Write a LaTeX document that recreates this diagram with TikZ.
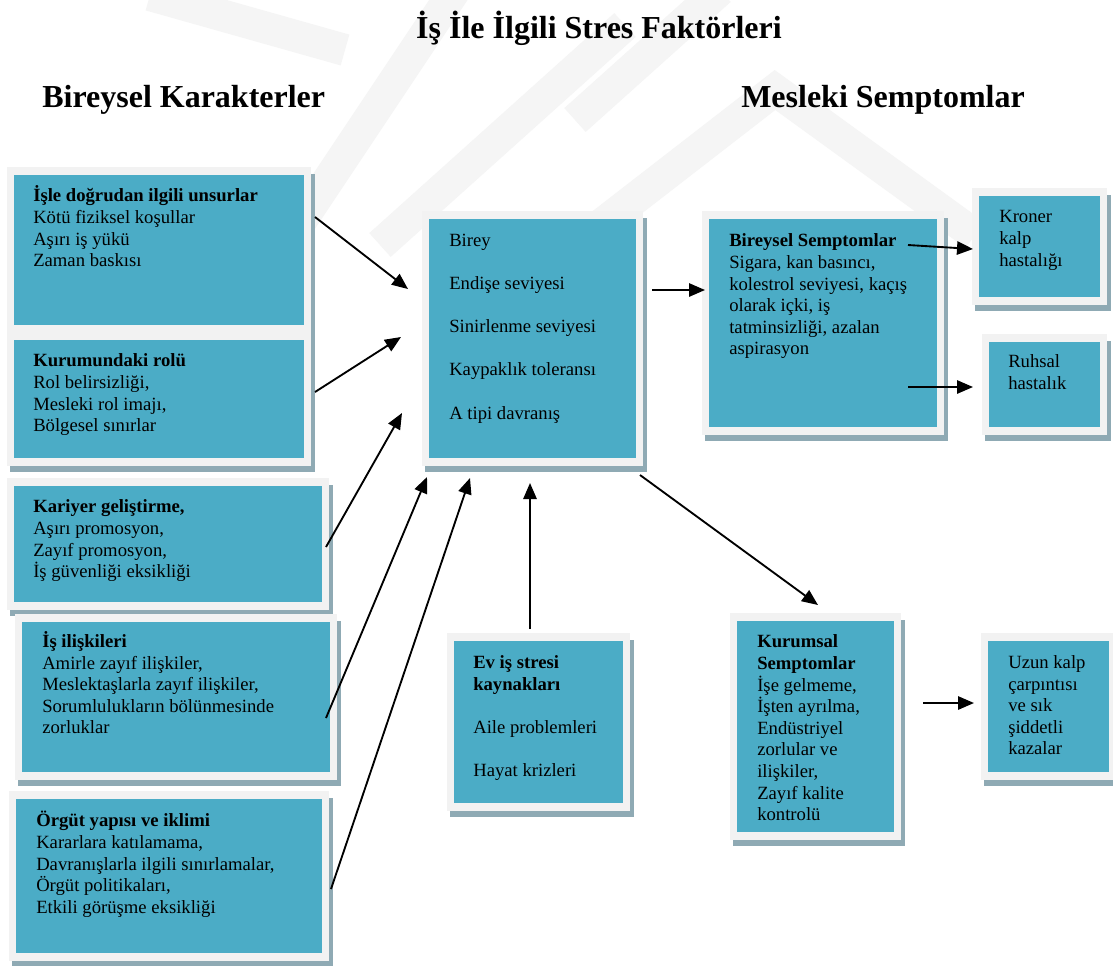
\documentclass[tikz,border=0pt]{standalone}
\usepackage{fontspec}
\setmainfont{Liberation Serif}
\usetikzlibrary{arrows.meta}

\definecolor{panelfill}{HTML}{4BACC6}
\definecolor{panelrim}{HTML}{F2F2F2}
\definecolor{panelshade}{HTML}{8FAAB4}
\definecolor{markgray}{HTML}{F5F5F5}

% first-line strut so every text block starts at the same baseline offset
\newcommand\fl{\rule{0pt}{13pt}}

% panel: name, inner (teal) rectangle x1 y1 x2 y2; draws shadow, light rim and the teal core
\newcommand\panel[5]{%
  \fill[panelshade] ({#2-4},{#3-1}) rectangle ({#4+11},{#5+14});
  \fill[panelrim] ({#2-7},{#3-8}) rectangle ({#4+7},{#5+8});
  \node[core, minimum width={(#4-#2)*0.75pt}, minimum height={(#5-#3)*0.75pt}]
    (#1) at ({(#2+#4)/2},{(#3+#5)/2}) {};
}

\tikzset{
  core/.style={fill=panelfill, inner sep=0pt, outer sep=0pt},
  body/.style={anchor=north west, yshift=13pt, align=left, inner sep=0pt,
               font=\fontsize{14}{16.2}\selectfont},
  head/.style={inner sep=0pt, font=\fontsize{24}{28}\selectfont\bfseries},
  link/.style={-{Triangle[length=12pt,width=10pt]}, line width=1.4pt},
  band/.style={markgray, line width=24pt, line cap=butt},
}

\begin{document}
\begin{tikzpicture}[x=0.75pt, y=-0.75pt]
  \useasboundingbox (0,0) rectangle (1113,965);
  \fill[white] (0,0) rectangle (1113,965);

  % faint background emblem
  \begin{scope}
    \clip (0,0) rectangle (1113,965);
    \draw[band] (285,245) -- (455,-10);
    \draw[band] (380,245) -- (625,25);
    \draw[band] (150,-5) -- (345,50);
    \draw[band, line join=miter] (575,245) -- (775,90) -- (975,235);
    \draw[band] (575,120) -- (720,-10);
  \end{scope}

  % headings
  \node[head, anchor=base] (title) at (599,38) {İş İle İlgili Stres Faktörleri};
  \node[head, anchor=base west] (lefthead) at (42,107) {Bireysel Karakterler};
  \node[head, anchor=base west] (righthead) at (741,107) {Mesleki Semptomlar};

  % left column
  \panel{direct}{14}{175}{304}{325}
  \panel{role}{14}{340}{304}{458}
  \panel{career}{14}{486}{322}{602}
  \panel{relations}{22}{622}{330}{772}
  \panel{structure}{16}{799}{322}{953}

  % centre
  \panel{person}{429}{219}{636}{458}
  \panel{home}{454}{641}{623}{803}

  % right side
  \panel{indiv}{709}{219}{937}{427}
  \panel{coronary}{979}{196}{1100}{297}
  \panel{mental}{989}{342}{1100}{427}
  \panel{corp}{737}{621}{894}{832}
  \panel{accident}{988}{641}{1109}{772}

  % texts
  \node[body] (tdirect) at (33,201.7) {\fl\textbf{İşle doğrudan ilgili unsurlar}\\Kötü fiziksel koşullar\\Aşırı iş yükü\\Zaman baskısı};
  \node[body] (trole) at (33,366.7) {\fl\textbf{Kurumundaki rolü}\\Rol belirsizliği,\\Mesleki rol imajı,\\Bölgesel sınırlar};
  \node[body] (tcareer) at (33,512.7) {\fl\textbf{Kariyer geliştirme,}\\Aşırı promosyon,\\Zayıf promosyon,\\İş güvenliği eksikliği};
  \node[body] (trelations) at (42,647.3) {\fl\textbf{İş ilişkileri}\\Amirle zayıf ilişkiler,\\Meslektaşlarla zayıf ilişkiler,\\Sorumlulukların bölünmesinde\\zorluklar};
  \node[body] (tstructure) at (36,826.7) {\fl\textbf{Örgüt yapısı ve iklimi}\\Kararlara katılamama,\\Davranışlarla ilgili sınırlamalar,\\Örgüt politikaları,\\Etkili görüşme eksikliği};
  \node[body] (tperson) at (449,246) {\fl Birey\\[16.2pt]Endişe seviyesi\\[16.2pt]Sinirlenme seviyesi\\[16.2pt]Kaypaklık toleransı\\[16.2pt]A tipi davranış};
  \node[body] (thome) at (473,668.3) {\fl\textbf{Ev iş stresi}\\\textbf{kaynakları}\\[16.2pt]Aile problemleri\\[16.2pt]Hayat krizleri};
  \node[body] (tindiv) at (729,246.7) {\fl\textbf{Bireysel Semptomlar}\\Sigara, kan basıncı,\\kolestrol seviyesi, kaçış\\olarak içki, iş\\tatminsizliği, azalan\\aspirasyon};
  \node[body] (tcoronary) at (999,222.7) {\fl Kroner\\kalp\\hastalığı};
  \node[body] (tmental) at (1008,367.3) {\fl Ruhsal\\hastalık};
  \node[body] (tcorp) at (757,647.7) {\fl\textbf{Kurumsal}\\\textbf{Semptomlar}\\İşe gelmeme,\\İşten ayrılma,\\Endüstriyel\\zorlular ve\\ilişkiler,\\Zayıf kalite\\kontrolü};
  \node[body] (taccident) at (1008,668.3) {\fl Uzun kalp\\çarpıntısı\\ve sık\\şiddetli\\kazalar};

  % connector end points
  \coordinate (s1) at (315,217);  \coordinate (e1) at (408,289);
  \coordinate (s2) at (315,392);  \coordinate (e2) at (401,337);
  \coordinate (s3) at (326,547);  \coordinate (e3) at (402,413);
  \coordinate (s4) at (326,718);  \coordinate (e4) at (427,477);
  \coordinate (s5) at (331,889);  \coordinate (e5) at (470,478);
  \coordinate (s6) at (530,629);  \coordinate (e6) at (530,483);
  \coordinate (s7) at (652,290);  \coordinate (e7) at (705,290);
  \coordinate (s8) at (908,245);  \coordinate (e8) at (973,249);
  \coordinate (s9) at (908,387);  \coordinate (e9) at (973,387);
  \coordinate (s10) at (640,475); \coordinate (e10) at (818,605);
  \coordinate (s11) at (923,703); \coordinate (e11) at (974,703);

  \draw[link] (s1) -- (e1);
  \draw[link] (s2) -- (e2);
  \draw[link] (s3) -- (e3);
  \draw[link] (s4) -- (e4);
  \draw[link] (s5) -- (e5);
  \draw[link] (s6) -- (e6);
  \draw[link] (s7) -- (e7);
  \draw[link] (s8) -- (e8);
  \draw[link] (s9) -- (e9);
  \draw[link] (s10) -- (e10);
  \draw[link] (s11) -- (e11);
\end{tikzpicture}
\end{document}
